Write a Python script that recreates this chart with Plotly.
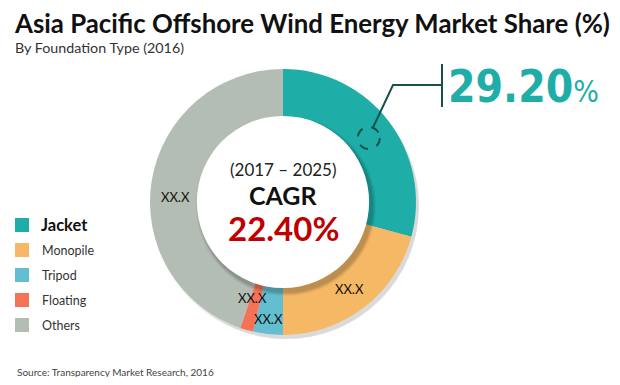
import math
import plotly.graph_objects as go

# ---- data ----
categories = ["Jacket", "Monopile", "Tripod", "Floating", "Others"]
shares = [29.2, 20.8, 3.6, 1.6, 44.8]
colors = ["#1FADA8", "#F5B865", "#63BFD0", "#F47357", "#B4BDB3"]
slice_labels = ["", "XX.X", "XX.X", "XX.X", "XX.X"]
highlight_value = "29.20"
cagr_period = "(2017 – 2025)"
cagr_value = "22.40%"

title = "Asia Pacific Offshore Wind Energy Market Share (%)"
subtitle = "By Foundation Type (2016)"
source = "Source: Transparency Market Research, 2016"

# page has an 8px body margin: size the figure so the page is exactly 620x385
OFF = 8
FW, FH = 620 - 2 * OFF, 385 - 2 * OFF

# ---- geometry (window pixels) ----
CX, CY, R_OUT = 283, 202, 133
HOLE = 0.64
R_IN = R_OUT * HOLE
FONT = "Lato, sans-serif"


def px(x):
    return (x - OFF) / FW


def py(y):
    return 1 - (y - OFF) / FH


def circle(cx, cy, r, **kw):
    return dict(type="circle", xref="paper", yref="paper",
                x0=px(cx - r), x1=px(cx + r), y0=py(cy + r), y1=py(cy - r), **kw)


def text(x, y, s, size, color, xanchor="center", family=FONT):
    return dict(x=px(x), y=py(y), xref="paper", yref="paper", text=s, showarrow=False,
                xanchor=xanchor, yanchor="middle",
                font=dict(family=family, size=size, color=color))


fig = go.Figure()
fig.add_trace(go.Pie(
    labels=categories, values=shares, sort=False, direction="clockwise", rotation=0,
    hole=HOLE, marker=dict(colors=colors, line=dict(width=0)),
    textinfo="none", hoverinfo="label+percent", showlegend=False,
    domain=dict(x=[px(CX - R_OUT), px(CX + R_OUT)], y=[py(CY + R_OUT), py(CY - R_OUT)]),
))

shapes = []
annotations = []

# soft shadow under the donut (bottom-right)
for i, a in enumerate([0.04, 0.05, 0.06]):
    shapes.append(circle(CX + 2 + i, CY + 3 + i, R_OUT + 1 - i, layer="below",
                         fillcolor=f"rgba(0,0,0,{a})", line=dict(width=0)))

# inner disc shadow and white disc
for i, a in enumerate([0.04, 0.05, 0.07, 0.08]):
    shapes.append(circle(CX + 3, CY + 4, R_IN + 5 - i, fillcolor=f"rgba(0,0,0,{a})",
                         line=dict(width=0)))
shapes.append(circle(CX, CY, R_IN + 1, fillcolor="white", line=dict(width=0)))

# slice labels placed at slice mid angles computed from the values
total = sum(shares)
start = 0.0
r_mid = (R_OUT + R_IN) / 2
nudges = {"Tripod": (9, 0.8), "Floating": (-8, 1.6), "Others": (-1, -6.8)}  # (radial px, angle deg)
mids = []
for cat, v, lab in zip(categories, shares, slice_labels):
    ang = start + v / total * 360 / 2
    mids.append(ang)
    start += v / total * 360
    if not lab:
        continue
    dr, da = nudges.get(cat, (0, 0))
    a = math.radians(ang + da)
    r = r_mid + dr
    annotations.append(text(CX + r * math.sin(a), CY - r * math.cos(a), lab, 13, "#111"))

# callout for Jacket
a = math.radians(mids[0] + 0.7)
dcx, dcy = CX + (r_mid - 2) * math.sin(a), CY - (r_mid - 2) * math.cos(a)
shapes.append(circle(dcx, dcy, 11, line=dict(color="#17504D", width=2, dash="dash")))
shapes.append(dict(type="path", xref="paper", yref="paper",
                   path=f"M {px(dcx+4)} {py(dcy-10)} L {px(393)} {py(85)} L {px(442)} {py(85)}",
                   line=dict(color="#17504D", width=2)))
shapes.append(dict(type="line", xref="paper", yref="paper", x0=px(442), x1=px(442),
                   y0=py(64), y1=py(107), line=dict(color="#17504D", width=2)))
annotations.append(text(446, 87,
                        f"<b>{highlight_value}</b><span style='font-size:30px'>%</span>",
                        44, "#1FADA8", xanchor="left",
                        family="DejaVu Sans Condensed, Liberation Sans Narrow, Lato, sans-serif"))

# center text
annotations.append(text(CX, 169, cagr_period, 17, "#222"))
annotations.append(text(CX, 195, "<b>CAGR</b>", 25, "#111"))
annotations.append(text(CX, 228, f"<b>{cagr_value}</b>", 33, "#C00000"))

# manual legend
for i, (cat, col) in enumerate(zip(categories, colors)):
    yc = 225 + 25 * i
    shapes.append(dict(type="rect", xref="paper", yref="paper", x0=px(15), x1=px(29),
                       y0=py(yc + 7), y1=py(yc - 7), fillcolor=col, line=dict(width=0)))
    if i == 0:
        annotations.append(text(39, yc, f"<b>{cat}</b>", 16.5, "#111", xanchor="left"))
    else:
        annotations.append(text(40, yc, cat, 12.5, "#333", xanchor="left"))

# titles
annotations.append(text(12, 23, f"<b>{title}</b>", 25.8, "#111", xanchor="left"))
annotations.append(text(13, 47, subtitle, 14.3, "#333", xanchor="left"))
annotations.append(text(15, 372, source, 10, "#444", xanchor="left"))

fig.update_layout(width=FW, height=FH, margin=dict(l=0, r=0, t=0, b=0),
                  paper_bgcolor="white", plot_bgcolor="white",
                  shapes=shapes, annotations=annotations)
fig.write_html("out.html")
